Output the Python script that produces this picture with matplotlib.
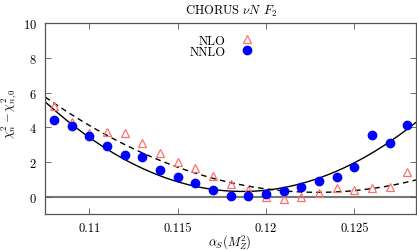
import numpy as np
import matplotlib
matplotlib.use("Agg")
import matplotlib.pyplot as plt

plt.rcParams['font.family'] = 'serif'
plt.rcParams['font.serif'] = ['cmr10', 'DejaVu Serif']
plt.rcParams['mathtext.fontset'] = 'cm'
plt.rcParams['axes.formatter.use_mathtext'] = True

alphas = [0.108, 0.109, 0.110, 0.111, 0.112, 0.113, 0.114, 0.115, 0.116, 0.117, 0.118,
          0.119, 0.120, 0.121, 0.122, 0.123, 0.124, 0.125, 0.126, 0.127, 0.128]
nlo = [5.25, 4.28, 3.70, 3.73, 3.67, 3.10, 2.53, 2.00, 1.64, 1.22, 0.74,
       0.39, 0.00, -0.13, 0.00, 0.21, 0.50, 0.39, 0.48, 0.58, 1.45]
nnlo = [4.40, 4.08, 3.50, 2.94, 2.42, 2.30, 1.53, 1.12, 0.78, 0.41, 0.06,
        0.06, 0.17, 0.31, 0.54, 0.89, 1.16, 1.74, 3.58, 3.10, 4.16]

# parabola fit parameters: (curvature, position of minimum, minimum value)
fit_nnlo = [41400.0, 0.11867, 0.30]
fit_nlo = [23100.0, 0.12292, 0.25]

xlim = (0.1075, 0.1285)
ylim = (-1, 10)
xticks = [0.11, 0.115, 0.12, 0.125]
xticklabels = ['0.11', '0.115', '0.12', '0.125']
yticks = [0, 2, 4, 6, 8, 10]

fig = plt.figure(figsize=(4.17, 2.51), dpi=100)
ax = fig.add_axes([0.1086, 0.1434, 0.8897, 0.7596])

xs = np.linspace(xlim[0], xlim[1], 300)
def parab(p, x):
    return p[0] * (x - p[1]) ** 2 + p[2]

ax.axhline(0, color='#777777', lw=1.5, zorder=1)
ax.plot(xs, parab(fit_nlo, xs), color='black', lw=1.0, ls=(0, (4, 3)), zorder=2)
ax.plot(xs, parab(fit_nnlo, xs), color='black', lw=1.0, zorder=2)
ax.plot(alphas, nlo, ls='none', marker='^', markersize=6, markerfacecolor='none',
        markeredgecolor='#ff6f6f', markeredgewidth=0.9, label='NLO', zorder=3)
ax.plot(alphas, nnlo, ls='none', marker='o', markersize=6, markerfacecolor='#0000ff',
        markeredgecolor='#0000ff', label='NNLO', zorder=4)

ax.set_xlim(*xlim)
ax.set_ylim(*ylim)
ax.set_xticks(xticks)
ax.set_xticklabels(xticklabels)
ax.set_yticks(yticks)
ax.tick_params(direction='in', top=True, right=True, length=4, width=0.6,
               color='#555555', labelsize=9, pad=6)
for s in ax.spines.values():
    s.set_color('#555555')
    s.set_linewidth(0.9)

ax.set_title(r'CHORUS $\nu N$ $F_2$', fontsize=9, pad=7)
ax.set_xlabel(r'$\alpha_S(M_Z^2)$', fontsize=9)
ax.xaxis.set_label_coords(0.498, -0.097)
ax.set_ylabel(r'$\chi^2_n - \chi^2_{n,0}$', fontsize=9)
ax.yaxis.set_label_coords(-0.072, 0.53)

leg = ax.legend(loc='upper center', bbox_to_anchor=(0.475, 0.98), markerfirst=False,
                frameon=False, fontsize=9, handletextpad=1.2, labelspacing=-0.1,
                handlelength=1.0, borderaxespad=0.2)

fig.savefig('out.png', dpi=100)
